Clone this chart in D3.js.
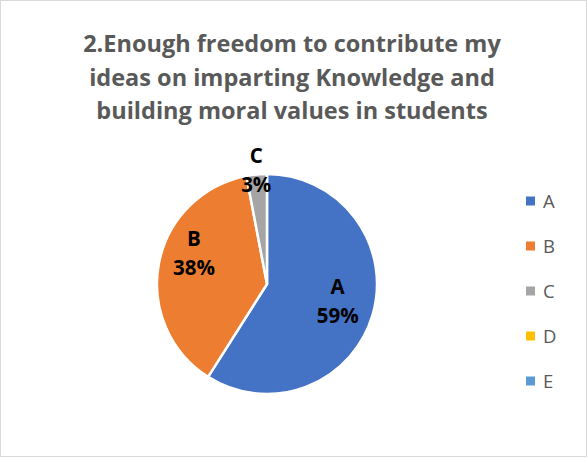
<!DOCTYPE html>
<meta charset="utf-8" />
<head>
  <script src="https://d3js.org/d3.v7.min.js"></script>
  <style>
    body { margin: 0; background: #fff; }
    text { font-family: "Open Sans", sans-serif; }
  </style>
</head>
<body>
  <svg id="chart" width="588" height="458"></svg>
</body>
<script>
  const titleLines = [
    "2.Enough freedom to contribute my",
    "ideas on imparting Knowledge and",
    "building moral values in students",
  ];
  const categories = ["A", "B", "C", "D", "E"];
  const percents = [59, 38, 3, 0, 0];
  const colors = ["#4472c4", "#ed7d31", "#a5a5a5", "#ffc000", "#5b9bd5"];

  const svg = d3.select("#chart");
  const width = +svg.attr("width"),
    height = +svg.attr("height");

  svg
    .append("rect")
    .attr("x", 0.5)
    .attr("y", 0.5)
    .attr("width", width - 2)
    .attr("height", height - 2)
    .attr("fill", "#fff")
    .attr("stroke", "#d9d9d9");

  // title
  svg
    .append("g")
    .selectAll("text")
    .data(titleLines)
    .enter()
    .append("text")
    .attr("x", 292)
    .attr("y", (d, i) => 52 + i * 33.5)
    .attr("text-anchor", "middle")
    .style("font-size", "23.5px")
    .style("font-weight", "bold")
    .style("fill", "#595959")
    .text((d) => d);

  const data = categories.map((c, i) => ({ cat: c, value: percents[i] }));
  const color = d3.scaleOrdinal().domain(categories).range(colors);

  const cx = 267,
    cy = 284,
    r = 110;

  const pie = d3
    .pie()
    .sort(null)
    .value((d) => d.value);
  const arcs = pie(data).filter((d) => d.data.value > 0);
  const arc = d3.arc().innerRadius(0).outerRadius(r);

  const g = svg.append("g").attr("transform", `translate(${cx},${cy})`);

  g.selectAll("path")
    .data(arcs)
    .enter()
    .append("path")
    .attr("d", arc)
    .attr("fill", (d) => color(d.data.cat))
    .attr("stroke", "#fff")
    .attr("stroke-width", 2.5)
    .attr("stroke-linejoin", "round");

  // label placement (radius factor, angle shift in degrees)
  const labelPos = { A: [0.66, -3], B: [0.72, 12], C: [1.04, 0] };

  const labels = g
    .selectAll(".lbl")
    .data(arcs)
    .enter()
    .append("text")
    .attr("class", "lbl")
    .attr("transform", (d) => {
      const [f, da] = labelPos[d.data.cat];
      const a = (d.startAngle + d.endAngle) / 2 + (da * Math.PI) / 180;
      return `translate(${Math.sin(a) * r * f},${-Math.cos(a) * r * f})`;
    })
    .attr("text-anchor", "middle")
    .style("font-size", "20.5px")
    .style("font-weight", "bold")
    .style("fill", "#000");

  labels
    .append("tspan")
    .attr("x", 0)
    .attr("y", -7)
    .text((d) => d.data.cat);
  labels
    .append("tspan")
    .attr("x", 0)
    .attr("y", 22)
    .text((d) => d.data.value + "%");

  // legend
  const ly = d3.scalePoint().domain(categories).range([201, 381]);
  const legend = svg.append("g");
  legend
    .selectAll("rect")
    .data(categories)
    .enter()
    .append("rect")
    .attr("x", 526)
    .attr("y", (d) => ly(d) - 4.5)
    .attr("width", 9)
    .attr("height", 9)
    .attr("fill", (d) => color(d));
  legend
    .selectAll("text")
    .data(categories)
    .enter()
    .append("text")
    .attr("x", 543)
    .attr("y", (d) => ly(d))
    .attr("dy", "0.36em")
    .style("font-size", "18.5px")
    .style("fill", "#595959")
    .text((d) => d);
</script>
